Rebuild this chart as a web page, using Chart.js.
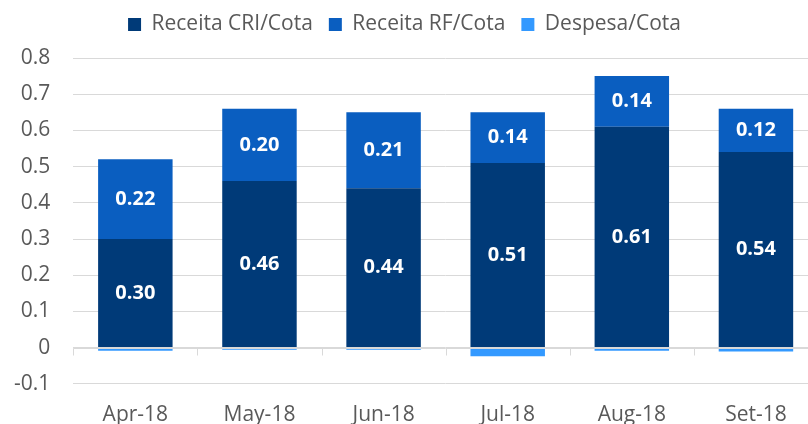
<!DOCTYPE html>
<html>
<head>
<meta charset="utf-8">
<script src="https://cdn.jsdelivr.net/npm/chart.js@4/dist/chart.umd.min.js"></script>
<style>
  html, body { margin: 0; padding: 0; background: #fff; overflow: hidden; }
  #wrap { width: 808px; height: 424px; overflow: hidden; }
</style>
</head>
<body>
<div id="wrap"><canvas id="chart" width="820" height="439"></canvas></div>
<script>
// Data
const months = ['Apr-18', 'May-18', 'Jun-18', 'Jul-18', 'Aug-18', 'Set-18'];
const receitaCri = [0.30, 0.46, 0.44, 0.51, 0.61, 0.54];
const receitaRf = [0.22, 0.20, 0.21, 0.14, 0.14, 0.12];
const despesa = [-0.009, -0.006, -0.006, -0.024, -0.009, -0.011];

const FONT = "'Open Sans', sans-serif";
const TEXT = '#595959';

// White value labels inside the revenue segments
const segmentLabels = {
  id: 'segmentLabels',
  afterDatasetsDraw(chart) {
    const ctx = chart.ctx;
    ctx.save();
    ctx.fillStyle = '#ffffff';
    ctx.font = 'bold 20px ' + FONT;
    ctx.textAlign = 'center';
    ctx.textBaseline = 'middle';
    [0, 1].forEach(di => {
      const meta = chart.getDatasetMeta(di);
      meta.data.forEach((bar, i) => {
        const v = chart.data.datasets[di].data[i];
        const y = (bar.y + bar.base) / 2;
        ctx.fillText(v.toFixed(2), bar.x, y);
      });
    });
    ctx.restore();
  }
};

// Category axis drawn at zero with small tick marks between months
const zeroAxis = {
  id: 'zeroAxis',
  afterDatasetsDraw(chart) {
    const ctx = chart.ctx;
    const x = chart.scales.x;
    const y0 = Math.round(chart.scales.y.getPixelForValue(0)) + 0.5;
    const area = chart.chartArea;
    ctx.save();
    ctx.strokeStyle = '#d9d9d9';
    ctx.lineWidth = 1;
    ctx.beginPath();
    ctx.moveTo(area.left, y0);
    ctx.lineTo(area.right, y0);
    const step = x.getPixelForValue(1) - x.getPixelForValue(0);
    for (let i = 0; i <= months.length; i++) {
      const px = Math.round(x.getPixelForValue(0) - step / 2 + i * step) + 0.5;
      ctx.moveTo(px, y0);
      ctx.lineTo(px, y0 + 7);
    }
    ctx.stroke();
    ctx.restore();
  }
};

// Extra room under the legend
const legendSpace = {
  id: 'legendSpace',
  beforeInit(chart) {
    const fit = chart.legend.fit;
    chart.legend.fit = function () {
      fit.bind(chart.legend)();
      this.height += 13;
    };
  }
};

new Chart(document.getElementById('chart'), {
  type: 'bar',
  data: {
    labels: months,
    datasets: [
      { label: 'Receita CRI/Cota', data: receitaCri, backgroundColor: '#003a78', borderWidth: 0 },
      { label: 'Receita RF/Cota', data: receitaRf, backgroundColor: '#0a5ec0', borderWidth: 0 },
      { label: 'Despesa/Cota', data: despesa, backgroundColor: '#3399ff', borderWidth: 0 }
    ]
  },
  options: {
    responsive: false,
    animation: false,
    layout: { padding: { left: -9, right: 2, top: -2, bottom: 0 } },
    datasets: { bar: { barPercentage: 1, categoryPercentage: 0.6 } },
    plugins: {
      tooltip: { enabled: false },
      legend: {
        position: 'top',
        labels: {
          boxWidth: 13,
          boxHeight: 13,
          padding: 16,
          color: TEXT,
          font: { family: FONT, size: 21 }
        }
      }
    },
    scales: {
      x: {
        stacked: true,
        grid: { display: false },
        border: { display: false },
        ticks: { color: TEXT, font: { family: FONT, size: 21 }, padding: 11 }
      },
      y: {
        stacked: true,
        min: -0.1,
        max: 0.8,
        grid: { color: '#d9d9d9', drawTicks: false },
        border: { display: false },
        ticks: {
          stepSize: 0.1,
          padding: 23,
          color: TEXT,
          font: { family: FONT, size: 21 },
          callback: v => String(Number(v.toFixed(1)))
        }
      }
    }
  },
  plugins: [segmentLabels, zeroAxis, legendSpace]
});
</script>
</body>
</html>
